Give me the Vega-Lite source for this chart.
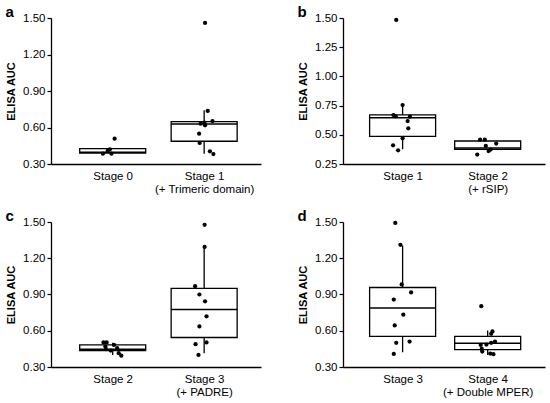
{
  "$schema": "https://vega.github.io/schema/vega-lite/v6.json",
  "padding": 5,
  "config": {
    "view": {"stroke": null},
    "font": "Liberation Sans",
    "axis": {
      "grid": false,
      "domainColor": "black",
      "domainWidth": 1.3,
      "tickColor": "black",
      "tickWidth": 1.2,
      "labelColor": "black",
      "labelFont": "Liberation Sans",
      "labelFontSize": 11.5,
      "labelOverlap": false,
      "titleFont": "Liberation Sans",
      "titleFontSize": 11,
      "titleFontWeight": "bold",
      "titleColor": "black"
    },
    "axisY": {"tickSize": 4, "labelPadding": 2, "titlePadding": 6, "tickCount": 12},
    "axisX": {"ticks": false, "labelPadding": 6, "labelLineHeight": 13, "labelFlush": false},
    "title": {"anchor": "start", "frame": "bounds", "fontSize": 15, "fontWeight": "bold", "color": "black", "offset": -8}
  },
  "datasets": {
    "a_box": [
      {"pos": 1, "lo": 0.39, "q1": 0.39, "median": 0.397, "q3": 0.426, "hi": 0.426},
      {"pos": 2, "lo": 0.385, "q1": 0.487, "median": 0.629, "q3": 0.648, "hi": 0.741}
    ],
    "a_pts": [
      {"pos": 1.021, "auc": 0.508},
      {"pos": 0.945, "auc": 0.407},
      {"pos": 0.986, "auc": 0.385},
      {"pos": 0.893, "auc": 0.385},
      {"pos": 0.969, "auc": 0.421},
      {"pos": 2.01, "auc": 1.459},
      {"pos": 2.039, "auc": 0.736},
      {"pos": 2.091, "auc": 0.653},
      {"pos": 2.003, "auc": 0.64},
      {"pos": 1.961, "auc": 0.631},
      {"pos": 2.01, "auc": 0.618},
      {"pos": 1.945, "auc": 0.549},
      {"pos": 1.951, "auc": 0.473},
      {"pos": 2.063, "auc": 0.404},
      {"pos": 2.101, "auc": 0.382}
    ],
    "b_box": [
      {"pos": 1, "lo": 0.376, "q1": 0.487, "median": 0.645, "q3": 0.67, "hi": 0.755},
      {"pos": 2, "lo": 0.35, "q1": 0.375, "median": 0.388, "q3": 0.447, "hi": 0.447}
    ],
    "b_pts": [
      {"pos": 0.925, "auc": 1.483},
      {"pos": 1.0, "auc": 0.755},
      {"pos": 0.892, "auc": 0.669},
      {"pos": 0.918, "auc": 0.658},
      {"pos": 1.086, "auc": 0.655},
      {"pos": 1.059, "auc": 0.618},
      {"pos": 1.067, "auc": 0.556},
      {"pos": 1.0, "auc": 0.47},
      {"pos": 0.888, "auc": 0.41},
      {"pos": 0.947, "auc": 0.367},
      {"pos": 1.911, "auc": 0.458},
      {"pos": 1.966, "auc": 0.458},
      {"pos": 2.1, "auc": 0.425},
      {"pos": 1.978, "auc": 0.405},
      {"pos": 2.034, "auc": 0.374},
      {"pos": 2.011, "auc": 0.361},
      {"pos": 1.877, "auc": 0.331}
    ],
    "c_box": [
      {"pos": 1, "lo": 0.4, "q1": 0.436, "median": 0.447, "q3": 0.483, "hi": 0.5},
      {"pos": 2, "lo": 0.414, "q1": 0.544, "median": 0.775, "q3": 0.95, "hi": 1.294}
    ],
    "c_pts": [
      {"pos": 0.899, "auc": 0.503},
      {"pos": 0.934, "auc": 0.503},
      {"pos": 0.92, "auc": 0.469},
      {"pos": 1.014, "auc": 0.483},
      {"pos": 0.979, "auc": 0.436},
      {"pos": 1.049, "auc": 0.456},
      {"pos": 1.066, "auc": 0.414},
      {"pos": 1.094, "auc": 0.394},
      {"pos": 0.927, "auc": 0.447},
      {"pos": 2.005, "auc": 1.477},
      {"pos": 2.005, "auc": 1.294},
      {"pos": 1.901, "auc": 0.969},
      {"pos": 1.948, "auc": 0.9},
      {"pos": 2.01, "auc": 0.844},
      {"pos": 2.026, "auc": 0.719},
      {"pos": 1.948, "auc": 0.636},
      {"pos": 1.906, "auc": 0.489},
      {"pos": 2.026, "auc": 0.503},
      {"pos": 1.938, "auc": 0.4}
    ],
    "d_box": [
      {"pos": 1, "lo": 0.422, "q1": 0.553, "median": 0.789, "q3": 0.958, "hi": 1.306},
      {"pos": 2, "lo": 0.4, "q1": 0.444, "median": 0.497, "q3": 0.553, "hi": 0.603}
    ],
    "d_pts": [
      {"pos": 0.914, "auc": 1.492},
      {"pos": 0.974, "auc": 1.311},
      {"pos": 0.989, "auc": 0.983},
      {"pos": 1.1, "auc": 0.917},
      {"pos": 0.896, "auc": 0.858},
      {"pos": 1.008, "auc": 0.733},
      {"pos": 0.907, "auc": 0.644},
      {"pos": 0.925, "auc": 0.5},
      {"pos": 1.082, "auc": 0.511},
      {"pos": 0.896, "auc": 0.408},
      {"pos": 1.925, "auc": 0.803},
      {"pos": 2.056, "auc": 0.594},
      {"pos": 2.041, "auc": 0.575},
      {"pos": 2.086, "auc": 0.511},
      {"pos": 2.041, "auc": 0.5},
      {"pos": 1.985, "auc": 0.486},
      {"pos": 1.918, "auc": 0.483},
      {"pos": 1.93, "auc": 0.45},
      {"pos": 1.936, "auc": 0.428},
      {"pos": 2.03, "auc": 0.411},
      {"pos": 2.067, "auc": 0.406}
    ]
  },
  "columns": 2,
  "spacing": {"row": 14, "column": 36},
  "concat": [
    {
      "title": "a",
      "width": 210,
      "height": 146,
      "encoding": {
        "x": {
          "field": "pos",
          "type": "quantitative",
          "title": null,
          "scale": {"domain": [0.38, 2.567], "nice": false, "zero": false},
          "axis": {"values": [1, 2], "labelExpr": "datum.value == 1 ? 'Stage 0' : ['Stage 1', '(+ Trimeric domain)']"}
        }
      },
      "layer": [
        {
          "data": {"name": "a_box"},
          "mark": {"type": "rule", "color": "black", "strokeWidth": 1.3},
          "encoding": {
            "y": {"field": "lo", "type": "quantitative", "title": "ELISA AUC",
                  "scale": {"domain": [0.3, 1.5], "nice": false, "zero": false},
                  "axis": {"values": [0.3, 0.6, 0.9, 1.2, 1.5], "format": ".2f"}},
            "y2": {"field": "hi"}
          }
        },
        {
          "data": {"name": "a_box"},
          "mark": {"type": "bar", "width": 66, "fill": "white", "stroke": "black", "strokeWidth": 1.3},
          "encoding": {
            "y": {"field": "q1", "type": "quantitative", "title": "ELISA AUC"},
            "y2": {"field": "q3"}
          }
        },
        {
          "data": {"name": "a_box"},
          "mark": {"type": "tick", "orient": "horizontal", "size": 66, "thickness": 1.5, "color": "black", "opacity": 1},
          "encoding": {"y": {"field": "median", "type": "quantitative", "title": "ELISA AUC"}}
        },
        {
          "data": {"name": "a_pts"},
          "mark": {"type": "circle", "size": 18, "color": "black", "opacity": 1},
          "encoding": {"y": {"field": "auc", "type": "quantitative", "title": "ELISA AUC"}}
        }
      ]
    },
    {
      "title": "b",
      "width": 202,
      "height": 146,
      "encoding": {
        "x": {
          "field": "pos",
          "type": "quantitative",
          "title": null,
          "scale": {"domain": [0.358, 2.615], "nice": false, "zero": false},
          "axis": {"values": [1, 2], "labelExpr": "datum.value == 1 ? 'Stage 1' : ['Stage 2', '(+ rSIP)']"}
        }
      },
      "layer": [
        {
          "data": {"name": "b_box"},
          "mark": {"type": "rule", "color": "black", "strokeWidth": 1.3},
          "encoding": {
            "y": {"field": "lo", "type": "quantitative", "title": "ELISA AUC",
                  "scale": {"domain": [0.25, 1.5], "nice": false, "zero": false},
                  "axis": {"values": [0.25, 0.5, 0.75, 1.0, 1.25, 1.5], "format": ".2f"}},
            "y2": {"field": "hi"}
          }
        },
        {
          "data": {"name": "b_box"},
          "mark": {"type": "bar", "width": 66, "fill": "white", "stroke": "black", "strokeWidth": 1.3},
          "encoding": {
            "y": {"field": "q1", "type": "quantitative", "title": "ELISA AUC"},
            "y2": {"field": "q3"}
          }
        },
        {
          "data": {"name": "b_box"},
          "mark": {"type": "tick", "orient": "horizontal", "size": 66, "thickness": 1.5, "color": "black", "opacity": 1},
          "encoding": {"y": {"field": "median", "type": "quantitative", "title": "ELISA AUC"}}
        },
        {
          "data": {"name": "b_pts"},
          "mark": {"type": "circle", "size": 18, "color": "black", "opacity": 1},
          "encoding": {"y": {"field": "auc", "type": "quantitative", "title": "ELISA AUC"}}
        }
      ]
    },
    {
      "title": "c",
      "width": 210,
      "height": 145,
      "encoding": {
        "x": {
          "field": "pos",
          "type": "quantitative",
          "title": null,
          "scale": {"domain": [0.38, 2.567], "nice": false, "zero": false},
          "axis": {"values": [1, 2], "labelExpr": "datum.value == 1 ? 'Stage 2' : ['Stage 3', '(+ PADRE)']"}
        }
      },
      "layer": [
        {
          "data": {"name": "c_box"},
          "mark": {"type": "rule", "color": "black", "strokeWidth": 1.3},
          "encoding": {
            "y": {"field": "lo", "type": "quantitative", "title": "ELISA AUC",
                  "scale": {"domain": [0.3, 1.5], "nice": false, "zero": false},
                  "axis": {"values": [0.3, 0.6, 0.9, 1.2, 1.5], "format": ".2f"}},
            "y2": {"field": "hi"}
          }
        },
        {
          "data": {"name": "c_box"},
          "mark": {"type": "bar", "width": 66, "fill": "white", "stroke": "black", "strokeWidth": 1.3},
          "encoding": {
            "y": {"field": "q1", "type": "quantitative", "title": "ELISA AUC"},
            "y2": {"field": "q3"}
          }
        },
        {
          "data": {"name": "c_box"},
          "mark": {"type": "tick", "orient": "horizontal", "size": 66, "thickness": 1.5, "color": "black", "opacity": 1},
          "encoding": {"y": {"field": "median", "type": "quantitative", "title": "ELISA AUC"}}
        },
        {
          "data": {"name": "c_pts"},
          "mark": {"type": "circle", "size": 18, "color": "black", "opacity": 1},
          "encoding": {"y": {"field": "auc", "type": "quantitative", "title": "ELISA AUC"}}
        }
      ]
    },
    {
      "title": "d",
      "width": 202,
      "height": 145,
      "encoding": {
        "x": {
          "field": "pos",
          "type": "quantitative",
          "title": null,
          "scale": {"domain": [0.358, 2.615], "nice": false, "zero": false},
          "axis": {"values": [1, 2], "labelExpr": "datum.value == 1 ? 'Stage 3' : ['Stage 4', '(+ Double MPER)']"}
        }
      },
      "layer": [
        {
          "data": {"name": "d_box"},
          "mark": {"type": "rule", "color": "black", "strokeWidth": 1.3},
          "encoding": {
            "y": {"field": "lo", "type": "quantitative", "title": "ELISA AUC",
                  "scale": {"domain": [0.3, 1.5], "nice": false, "zero": false},
                  "axis": {"values": [0.3, 0.6, 0.9, 1.2, 1.5], "format": ".2f"}},
            "y2": {"field": "hi"}
          }
        },
        {
          "data": {"name": "d_box"},
          "mark": {"type": "bar", "width": 66, "fill": "white", "stroke": "black", "strokeWidth": 1.3},
          "encoding": {
            "y": {"field": "q1", "type": "quantitative", "title": "ELISA AUC"},
            "y2": {"field": "q3"}
          }
        },
        {
          "data": {"name": "d_box"},
          "mark": {"type": "tick", "orient": "horizontal", "size": 66, "thickness": 1.5, "color": "black", "opacity": 1},
          "encoding": {"y": {"field": "median", "type": "quantitative", "title": "ELISA AUC"}}
        },
        {
          "data": {"name": "d_pts"},
          "mark": {"type": "circle", "size": 18, "color": "black", "opacity": 1},
          "encoding": {"y": {"field": "auc", "type": "quantitative", "title": "ELISA AUC"}}
        }
      ]
    }
  ]
}
